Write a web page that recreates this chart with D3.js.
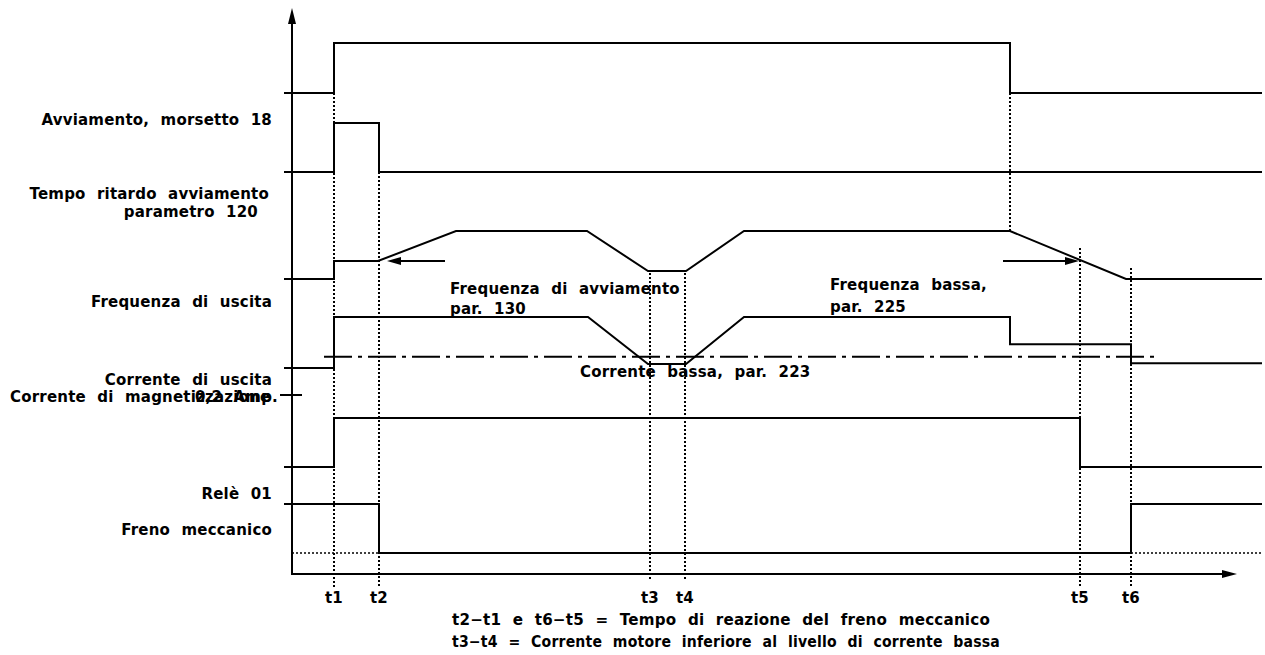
<!DOCTYPE html>
<html>
<head>
<meta charset="utf-8">
<script src="https://cdn.jsdelivr.net/npm/d3@7/dist/d3.min.js"></script>
<style>
  html, body { margin: 0; padding: 0; background: #fff; }
  svg { display: block; }
  text { font-family: "DejaVu Sans", sans-serif; font-weight: bold; font-size: 15px; fill: #000; word-spacing: 6px; letter-spacing: 0.2px; }
</style>
</head>
<body>
<svg id="chart" width="1265" height="655"></svg>
<script>
// ---- Data (time units along x, signal level units along y) ----
const timeMarks = [
  { name: "t1", t: 4.2 },
  { name: "t2", t: 8.7 },
  { name: "t3", t: 35.8 },
  { name: "t4", t: 39.3 },
  { name: "t5", t: 78.8 },
  { name: "t6", t: 83.9 }
];

const startSignal = [[-0.8, 48.1], [4.2, 48.1], [4.2, 53.1], [71.8, 53.1], [71.8, 48.1], [97, 48.1]];
const delaySignal = [[-0.8, 40.2], [4.2, 40.2], [4.2, 45.1], [8.7, 45.1], [8.7, 40.2], [97, 40.2]];
const freqSignal = [[-0.8, 29.5], [4.2, 29.5], [4.2, 31.3], [8.6, 31.3], [16.4, 34.3], [29.5, 34.3],
                    [35.6, 30.3], [39.4, 30.3], [45.2, 34.3], [71.8, 34.3], [83.4, 29.5], [97, 29.5]];
const currentSignal = [[-0.8, 20.6], [4.2, 20.6], [4.2, 25.7], [29.6, 25.7], [35.6, 21.0], [39.4, 21.0],
                       [45.2, 25.7], [71.8, 25.7], [71.8, 22.97], [83.9, 22.97], [83.9, 21.07], [97, 21.07]];
const lowCurrentLevel = 21.73;
const lowCurrentSpan = [3.2, 86.4];
const magnetTick = { level: 17.9, from: -1.2, to: 1.0 };
const relaySignal = [[-0.8, 10.7], [4.2, 10.7], [4.2, 15.6], [78.8, 15.6], [78.8, 10.7], [97, 10.7]];
const brakeSignal = [[-0.8, 7.0], [8.7, 7.0], [8.7, 2.1], [83.9, 2.1], [83.9, 7.0], [97, 7.0]];
const brakeDotted = [[[0, 2.1], [8.7, 2.1]], [[83.9, 2.1], [97, 2.1]]];

// dotted verticals: [time, topLevel, bottomLevel]
const guideLines = [
  [4.2, 48.1, -1.4], [8.7, 40.2, -1.4], [35.8, 30.1, -0.5], [39.3, 30.1, -0.5],
  [71.8, 48.1, 34.3], [78.8, 32.6, -1.4], [83.9, 30.6, -1.4]
];

// arrows: [fromT, toT, level]
const pointerArrows = [[15.3, 9.5, 31.3], [71.1, 78.7, 31.3]];

const leftLabels = [
  { text: "Avviamento, morsetto 18", level: 45.4, anchor: "end", x: -2.0 },
  { text: "Tempo ritardo avviamento", level: 38.0, anchor: "end", x: -2.3 },
  { text: "parametro 120", level: 36.2, anchor: "end", x: -3.4 },
  { text: "Frequenza di uscita", level: 27.2, anchor: "end", x: -2.0 },
  { text: "Corrente di uscita", level: 19.4, anchor: "end", x: -2.0 },
  { text: "Corrente di magnetizzazione", level: 17.7, anchor: "start", x: -28.2 },
  { text: "0,2 Amp.", level: 17.7, anchor: "end", x: -1.4 },
  { text: "Relè 01", level: 8.0, anchor: "end", x: -2.0 },
  { text: "Freno meccanico", level: 4.4, anchor: "end", x: -2.0 }
];
const innerLabels = [
  { text: "Frequenza di avviamento", t: 15.8, level: 28.5 },
  { text: "par. 130", t: 15.8, level: 26.5 },
  { text: "Frequenza bassa,", t: 53.8, level: 28.9 },
  { text: "par. 225", t: 53.8, level: 26.7 },
  { text: "Corrente bassa, par. 223", t: 28.8, level: 20.2 }
];
const footnotes = [
  "t2−t1 e t6−t5 = Tempo di reazione del freno meccanico",
  "t3−t4 = Corrente motore inferiore al livello di corrente bassa"
];
const footnoteStart = 16.0;
const footnoteEnds = [69.8, 70.8];

// ---- Scales ----
const x = d3.scaleLinear().domain([0, 97]).range([292, 1262]);
const y = d3.scaleLinear().domain([0, 56.6]).range([574, 8]);

const svg = d3.select("#chart");
const line = d3.line().x(d => x(d[0])).y(d => y(d[1]));

// dotted guides
svg.append("g").selectAll("line").data(guideLines).join("line")
  .attr("x1", d => x(d[0])).attr("x2", d => x(d[0]))
  .attr("y1", d => y(d[1])).attr("y2", d => y(d[2]))
  .attr("stroke", "#000").attr("stroke-width", 2).attr("stroke-dasharray", "2,2");

svg.append("g").selectAll("path").data(brakeDotted).join("path")
  .attr("d", line).attr("fill", "none")
  .attr("stroke", "#000").attr("stroke-width", 1.6).attr("stroke-dasharray", "2,2");

// low current dash-dot line
svg.append("line")
  .attr("x1", x(lowCurrentSpan[0])).attr("x2", x(lowCurrentSpan[1]))
  .attr("y1", y(lowCurrentLevel)).attr("y2", y(lowCurrentLevel))
  .attr("stroke", "#000").attr("stroke-width", 2).attr("stroke-dasharray", "28,6,4,6");

// signals
const signals = [startSignal, delaySignal, freqSignal, currentSignal, relaySignal, brakeSignal];
svg.append("g").selectAll("path").data(signals).join("path")
  .attr("d", line).attr("fill", "none")
  .attr("stroke", "#000").attr("stroke-width", 2).attr("stroke-linejoin", "miter");

// magnetization tick
svg.append("line")
  .attr("x1", x(magnetTick.from)).attr("x2", x(magnetTick.to))
  .attr("y1", y(magnetTick.level)).attr("y2", y(magnetTick.level))
  .attr("stroke", "#000").attr("stroke-width", 2);

// axes
const axisY0 = y(0);
svg.append("line").attr("x1", x(0)).attr("x2", x(0)).attr("y1", axisY0).attr("y2", y(55.0))
  .attr("stroke", "#000").attr("stroke-width", 2);
svg.append("path")
  .attr("d", `M${x(0)},${y(56.6)} L${x(0) - 4},${y(55.0)} L${x(0) + 4},${y(55.0)} Z`)
  .attr("fill", "#000");
svg.append("line").attr("x1", x(0) - 1).attr("x2", x(93.0)).attr("y1", axisY0).attr("y2", axisY0)
  .attr("stroke", "#000").attr("stroke-width", 2);
svg.append("path")
  .attr("d", `M${x(94.5)},${axisY0} L${x(93.0)},${axisY0 - 4} L${x(93.0)},${axisY0 + 4} Z`)
  .attr("fill", "#000");

// pointer arrows
pointerArrows.forEach(([a, b, lv]) => {
  const yy = y(lv), dir = Math.sign(b - a), hx = x(b), head = 14;
  svg.append("line").attr("x1", x(a)).attr("x2", hx - dir * head).attr("y1", yy).attr("y2", yy)
    .attr("stroke", "#000").attr("stroke-width", 2);
  svg.append("path")
    .attr("d", `M${hx},${yy} L${hx - dir * head},${yy - 4} L${hx - dir * head},${yy + 4} Z`)
    .attr("fill", "#000");
});

// labels
svg.append("g").selectAll("text").data(leftLabels).join("text")
  .attr("x", d => x(d.x)).attr("y", d => y(d.level)).attr("text-anchor", d => d.anchor)
  .attr("dominant-baseline", "middle").text(d => d.text);

svg.append("g").selectAll("text").data(innerLabels).join("text")
  .attr("x", d => x(d.t)).attr("y", d => y(d.level))
  .attr("dominant-baseline", "middle").text(d => d.text);

svg.append("g").selectAll("text").data(timeMarks).join("text")
  .attr("x", d => x(d.t)).attr("y", y(-2.4)).attr("text-anchor", "middle")
  .attr("dominant-baseline", "middle").text(d => d.name);

svg.append("g").selectAll("text").data(footnotes).join("text")
  .attr("x", x(footnoteStart)).attr("y", (d, i) => y(-4.6 - i * 2.2))
  .attr("dominant-baseline", "middle")
  .attr("textLength", (d, i) => x(footnoteEnds[i]) - x(footnoteStart))
  .attr("lengthAdjust", "spacingAndGlyphs")
  .text(d => d);
</script>
</body>
</html>
